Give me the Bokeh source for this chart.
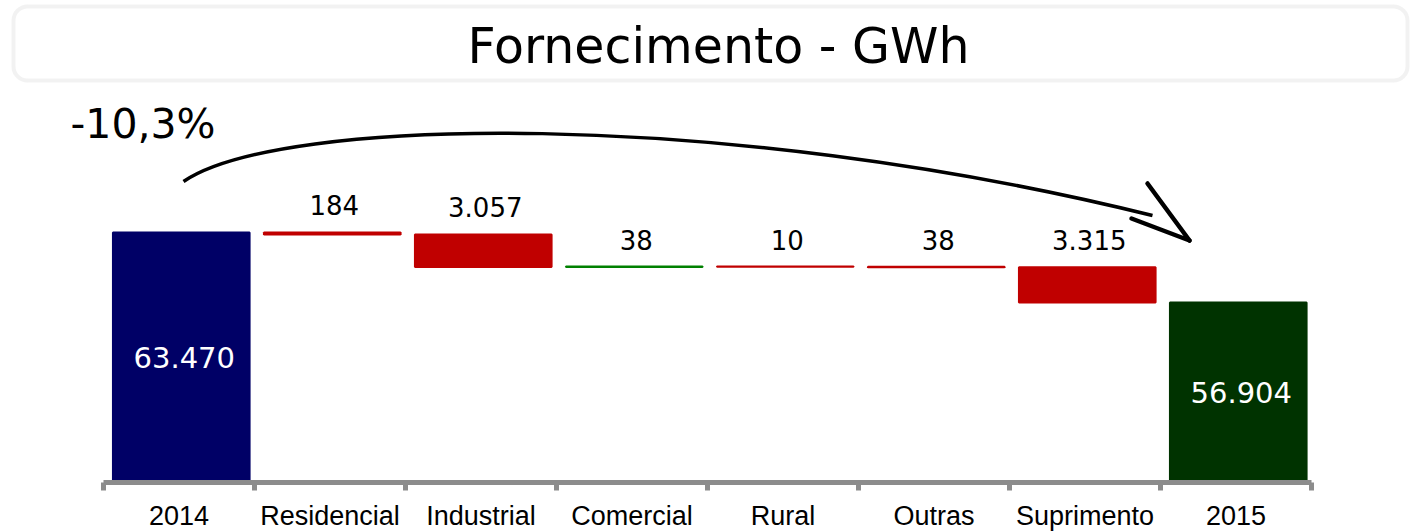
from bokeh.plotting import figure
from bokeh.models import Range1d, FixedTicker, BoxAnnotation, Label, ColumnDataSource
from bokeh.core.properties import value
from bokeh.embed import file_html
from bokeh.resources import INLINE

# ---------------- data ----------------
categories = ["2014", "Residencial", "Industrial", "Comercial", "Rural", "Outras", "Suprimento", "2015"]
values = [63470, -184, -3057, 38, -10, -38, -3315, 56904]
is_total = [True, False, False, False, False, False, False, True]
value_labels = ["63.470", "184", "3.057", "38", "10", "38", "3.315", "56.904"]
title_text = "Fornecimento - GWh"
change_text = "-10,3%"

total_colors = {"2014": "#000066", "2015": "#003300"}
up_color = "#008000"
down_color = "#C00000"

# ---------------- layout constants ----------------
Y_MIN = 40000
PX_PER_UNIT_Y = 10.652 / 1000.0   # pixels per GWh
FRAME_H = 482
FRAME_W = 1412
PX_PER_CAT = 151.0
AXIS_LEFT_PX = 103.0              # frame px where category 0 starts
BAR_SHIFT = 0.015                 # bars sit slightly right of slot centre

x_start = -AXIS_LEFT_PX / PX_PER_CAT
x_end = x_start + FRAME_W / PX_PER_CAT
y_end = Y_MIN + FRAME_H / PX_PER_UNIT_Y

# screen px -> data helpers for decorations
def dx(px):
    return x_start + px / PX_PER_CAT

def dy(py):
    return Y_MIN + (FRAME_H - py) / PX_PER_UNIT_Y

# ---------------- waterfall computation ----------------
centers, xs, bottoms, tops, colors = [], [], [], [], []
running = 0
for i, (c, v, t) in enumerate(zip(categories, values, is_total)):
    centers.append(i + 0.5)
    xs.append(i + 0.5 + BAR_SHIFT)
    if t:
        bottoms.append(0)
        tops.append(v)
        colors.append(total_colors[c])
        running = v
    else:
        start, end = running, running + v
        bottoms.append(min(start, end))
        tops.append(max(start, end))
        colors.append(up_color if v > 0 else down_color)
        running = end

src = ColumnDataSource(dict(x=xs, bottom=bottoms, top=tops, color=colors))

p = figure(x_range=Range1d(x_start, x_end), y_range=Range1d(Y_MIN, y_end),
           frame_width=FRAME_W, frame_height=FRAME_H,
           output_backend="svg", toolbar_location=None,
           y_axis_location=None, min_border_left=0, min_border_right=0,
           min_border_top=0, min_border_bottom=0)
p.outline_line_color = None
p.xgrid.visible = False
p.ygrid.visible = False
p.background_fill_color = "white"

# title box
box = BoxAnnotation(left=dx(13), right=dx(1407), top=dy(6), bottom=dy(80),
                    fill_color="white", fill_alpha=1.0, line_color="#d3d3d3",
                    line_width=4, border_radius=14, level="underlay")
p.add_layout(box)
p.add_layout(Label(x=dx(718), y=dy(46), text=title_text, text_align="center",
                   text_baseline="middle", text_font="DejaVu Sans",
                   text_font_size="49px", text_color="black"))

# bars
p.vbar(x="x", bottom="bottom", top="top", width=0.905, source=src,
       fill_color="color", line_color="color", line_width=2)

# labels for deltas
dsrc = ColumnDataSource(dict(
    x=[xs[i] for i in range(len(xs)) if not is_total[i]],
    y=[tops[i] for i in range(len(xs)) if not is_total[i]],
    t=[value_labels[i] for i in range(len(xs)) if not is_total[i]]))
p.text(x="x", y="y", text="t", source=dsrc, text_align="center",
       text_baseline="alphabetic", y_offset=-27, x_offset=2,
       text_font=value("DejaVu Sans"), text_font_size="26px", text_color="black")

# labels for totals (centered in bar)
tsrc = ColumnDataSource(dict(
    x=[xs[i] for i in range(len(xs)) if is_total[i]],
    y=[(Y_MIN + tops[i]) / 2 for i in range(len(xs)) if is_total[i]],
    t=[value_labels[i] for i in range(len(xs)) if is_total[i]]))
p.text(x="x", y="y", text="t", source=tsrc, text_align="center",
       text_baseline="middle", x_offset=3,
       text_font=value("DejaVu Sans"), text_font_size="29px", text_color="white")

# change arrow
p.bezier(x0=[dx(183)], y0=[dy(181)], x1=[dx(1152)], y1=[dy(215)],
         cx0=[dx(280)], cy0=[dy(115)], cx1=[dx(720)], cy1=[dy(108)],
         line_color="black", line_width=3.5)
p.segment(x0=[dx(1147), dx(1131)], y0=[dy(183), dy(218)],
          x1=[dx(1189), dx(1189)], y1=[dy(240), dy(240)],
          line_color="black", line_width=4.5, line_cap="round")
p.add_layout(Label(x=dx(70), y=dy(123), text=change_text, text_align="left",
                   text_baseline="alphabetic", text_font="DejaVu Sans",
                   text_font_size="41px", text_color="black"))

# x axis
ax = p.xaxis[0]
ax.ticker = FixedTicker(ticks=centers, minor_ticks=list(range(len(categories) + 1)))
ax.major_label_overrides = {x: c for x, c in zip(centers, categories)}
ax.bounds = (0, len(categories))
ax.axis_line_color = "#8c8c8c"
ax.axis_line_width = 5
ax.major_tick_line_color = None
ax.major_tick_in = 0
ax.major_tick_out = 0
ax.minor_tick_in = 0
ax.minor_tick_out = 8
ax.minor_tick_line_color = "#8c8c8c"
ax.minor_tick_line_width = 5
ax.major_label_standoff = 10
ax.major_label_text_font = "Liberation Sans"
ax.major_label_text_font_size = "27px"
ax.major_label_text_color = "black"

open("out.html", "w").write(file_html(p, INLINE))
